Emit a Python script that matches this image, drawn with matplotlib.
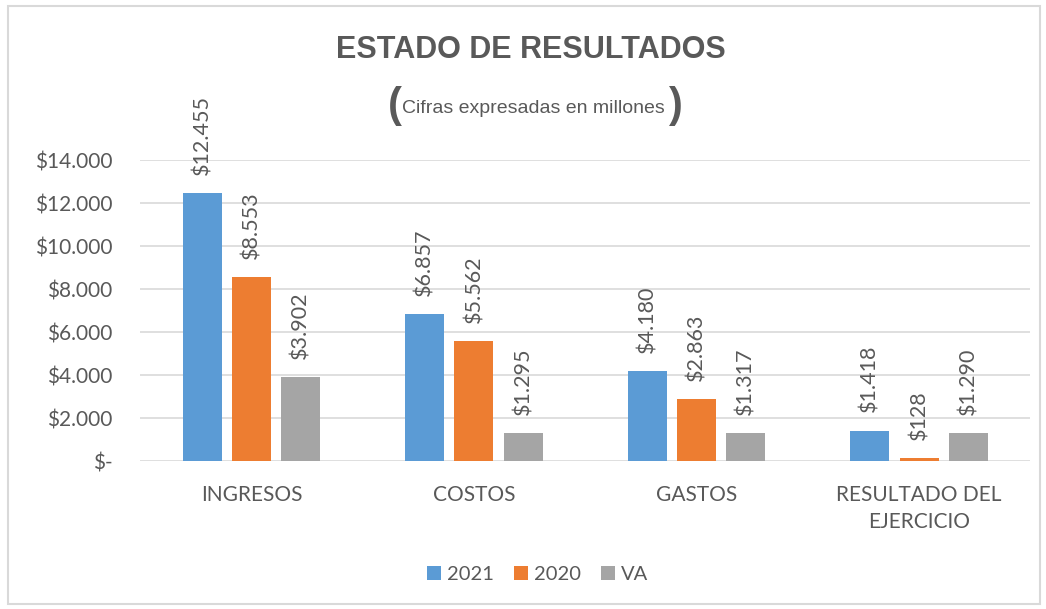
import numpy as np
import matplotlib.pyplot as plt
from matplotlib.patches import Rectangle
from matplotlib.ticker import FuncFormatter

categorias = ["INGRESOS", "COSTOS", "GASTOS", "RESULTADO DEL\nEJERCICIO"]
serie_2021 = [12455, 6857, 4180, 1418]
serie_2020 = [8553, 5562, 2863, 128]
serie_va = [3902, 1295, 1317, 1290]
nombres = ["2021", "2020", "VA"]
colores = ["#5B9BD5", "#ED7D31", "#A5A5A5"]

txt = "#595959"
narrow = ["Liberation Sans Narrow", "Liberation Sans", "DejaVu Sans"]
plt.rcParams['font.family'] = ['Lato', 'DejaVu Sans']

fig = plt.figure(figsize=(10.46, 6.09), dpi=100)
fig.patches.append(Rectangle((0.008, 0.008), 0.986, 0.982, transform=fig.transFigure,
                             fill=False, edgecolor="#D9D9D9", linewidth=1.5))
ax = fig.add_axes([0.134, 0.243, 0.851, 0.494])

x = np.arange(len(categorias))
w = 0.175
step = 0.222
for i, (vals, nom, col) in enumerate(zip([serie_2021, serie_2020, serie_va], nombres, colores)):
    pos = x + (i - 1) * step
    ax.bar(pos, vals, width=w, color=col, label=nom, zorder=3)
    for p, v in zip(pos, vals):
        s = "${:,}".format(v).replace(",", ".")
        ax.annotate(s, (p, v), xytext=(0, 13), textcoords="offset points",
                    rotation=90, ha="center", va="bottom",
                    fontsize=15.5, color=txt, zorder=4)

ax.set_xlim(-0.5, 3.5)
ax.set_ylim(0, 14000)
ax.set_yticks(np.arange(0, 14001, 2000))
ax.yaxis.set_major_formatter(FuncFormatter(
    lambda v, _: "$-" if v == 0 else "${:,.0f}".format(v).replace(",", ".")))
ax.grid(axis="y", color="#D9D9D9", linewidth=1.2, zorder=0)
for s in ax.spines.values():
    s.set_visible(False)
ax.tick_params(axis="y", length=0, labelsize=15, labelcolor=txt, pad=20)
ax.set_xticks(x)
ax.set_xticklabels(categorias, fontsize=15, linespacing=1.45)
ax.tick_params(axis="x", length=0, labelcolor=txt, pad=17)

fig.text(0.508, 0.918, "ESTADO DE RESULTADOS", ha="center", va="center",
         fontsize=22, fontweight="bold", color=txt, family=narrow)
fig.text(0.377, 0.826, "(", ha="center", va="center", fontsize=30, fontweight="bold",
         color=txt, family=narrow)
fig.text(0.510, 0.822, "Cifras expresadas en millones", ha="center", va="center",
         fontsize=14, color=txt, family=narrow)
fig.text(0.646, 0.826, ")", ha="center", va="center", fontsize=30, fontweight="bold",
         color=txt, family=narrow)

fig.legend(loc="center", bbox_to_anchor=(0.514, 0.056), ncol=3, frameon=False,
           fontsize=14.5, handlelength=0.7, handleheight=0.7, handletextpad=0.3,
           columnspacing=1.0, labelcolor=txt)

fig.savefig("out.png", dpi=100)
